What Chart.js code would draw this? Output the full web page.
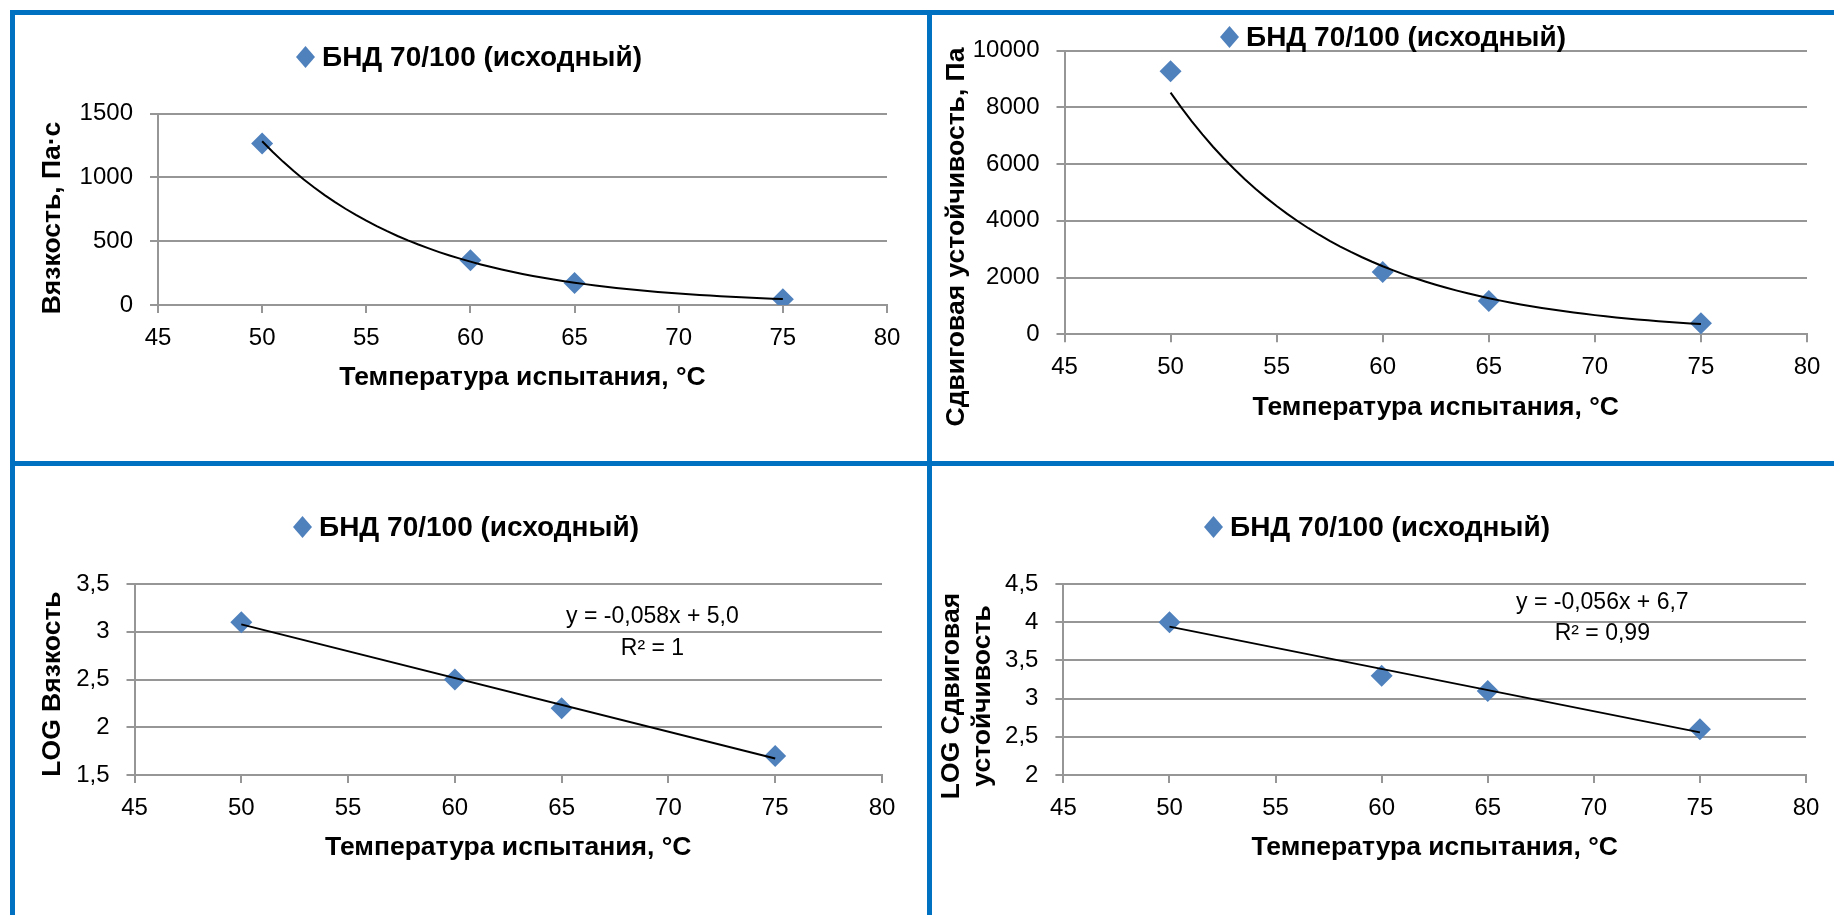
<!DOCTYPE html>
<html lang="ru">
<head>
<meta charset="utf-8">
<title>БНД 70/100 (исходный)</title>
<script src="https://cdn.jsdelivr.net/npm/chart.js@4.4.1/dist/chart.umd.min.js"></script>
<style>
  html, body { margin: 0; padding: 0; background: #fff; }
  body { position: relative; width: 1834px; height: 915px; overflow: hidden; font-family: "Liberation Sans", Arial, sans-serif; }
  .panel { position: absolute; }
  .panel canvas { position: absolute; left: 0; top: 0; }
  .frame { position: absolute; background: #0070c0; z-index: 5; }
  .legend { position: absolute; z-index: 2; }
  .legend-item { display: flex; align-items: center; height: 30px; line-height: 30px; font-weight: bold; font-size: 28px; white-space: nowrap; color: #000; }
  .legend-item .marker { width: 19px; height: 22px; margin-right: 7px; clip-path: polygon(50% 0, 100% 50%, 50% 100%, 0 50%); }
</style>
</head>
<body>

<div class="frame" style="left:10px; top:10px; width:1824px; height:5px;"></div>
<div class="frame" style="left:10px; top:10px; width:5px; height:905px;"></div>
<div class="frame" style="left:927px; top:10px; width:5px; height:905px;"></div>
<div class="frame" style="left:10px; top:461px; width:1824px; height:5px;"></div>

<div class="panel" style="left:15px; top:15px; width:912px; height:446px;">
  <canvas id="viscChart" width="912" height="446"></canvas>
  <div class="legend" id="viscLegend" style="left:281px; top:27px;"></div>
</div>
<div class="panel" style="left:932px; top:15px; width:902px; height:446px;">
  <canvas id="shearChart" width="902" height="446"></canvas>
  <div class="legend" id="shearLegend" style="left:288px; top:7px;"></div>
</div>
<div class="panel" style="left:15px; top:466px; width:912px; height:449px;">
  <canvas id="logViscChart" width="912" height="449"></canvas>
  <div class="legend" id="logViscLegend" style="left:278px; top:46px;"></div>
</div>
<div class="panel" style="left:932px; top:466px; width:902px; height:449px;">
  <canvas id="logShearChart" width="902" height="449"></canvas>
  <div class="legend" id="logShearLegend" style="left:272px; top:46px;"></div>
</div>

<script>
// Test temperatures, °C
const temps = [50, 60, 65, 75];

// Measured values for the base binder
const viscosity = [1265, 350, 173, 46];          // Па·с
const shearResistance = [9270, 2200, 1175, 390];  // Па
const logViscosity = [3.1, 2.5, 2.2, 1.7];
const logShear = [4.0, 3.3, 3.1, 2.6];

// Axis ticks
const tempTicks = [45, 50, 55, 60, 65, 70, 75, 80];
const viscTicks = [0, 500, 1000, 1500];
const shearTicks = [0, 2000, 4000, 6000, 8000, 10000];
const logViscTicks = [1.5, 2, 2.5, 3, 3.5];
const logShearTicks = [2, 2.5, 3, 3.5, 4, 4.5];

const seriesName = 'БНД 70/100 (исходный)';
const tempTitle = 'Температура испытания, °C';

const FONT = '"Liberation Sans", Arial, sans-serif';
const GRID = '#969696';
const MARKER = '#4f81bd';

Chart.defaults.font.family = FONT;
Chart.defaults.color = '#000';

// least squares line through (xs, ys)
function fitLine(xs, ys) {
  const n = xs.length;
  const mx = xs.reduce((a, b) => a + b, 0) / n;
  const my = ys.reduce((a, b) => a + b, 0) / n;
  let sxy = 0, sxx = 0;
  xs.forEach((x, i) => {
    sxy += (x - mx) * (ys[i] - my);
    sxx += (x - mx) * (x - mx);
  });
  const slope = sxy / sxx;
  return { slope, intercept: my - slope * mx };
}

// Trendline points: straight line or exponential (fit on ln y)
function trendPoints(xs, ys, kind) {
  const lo = Math.min(...xs), hi = Math.max(...xs);
  if (kind === 'linear') {
    const f = fitLine(xs, ys);
    return [lo, hi].map(x => ({ x, y: f.intercept + f.slope * x }));
  }
  const f = fitLine(xs, ys.map(Math.log));
  const pts = [];
  for (let x = lo; x <= hi + 1e-9; x += 0.5) {
    pts.push({ x, y: Math.exp(f.intercept + f.slope * x) });
  }
  return pts;
}

// HTML legend built from the chart's own legend items
const htmlLegend = {
  id: 'htmlLegend',
  afterUpdate(chart, args, opts) {
    const box = document.getElementById(opts.containerID);
    if (!box) return;
    box.innerHTML = '';
    chart.options.plugins.legend.labels.generateLabels(chart)
      .filter(item => item.text === seriesName)
      .forEach(item => {
        const row = document.createElement('div');
        row.className = 'legend-item';
        const mark = document.createElement('span');
        mark.className = 'marker';
        mark.style.background = item.fillStyle;
        const text = document.createElement('span');
        text.textContent = item.text;
        row.append(mark, text);
        box.appendChild(row);
      });
  }
};

// Rotated value-axis title (one or two lines)
const sideTitle = {
  id: 'sideTitle',
  afterDraw(chart, args, opts) {
    if (!opts.lines) return;
    const { ctx } = chart;
    ctx.save();
    ctx.font = 'bold 26.5px ' + FONT;
    ctx.fillStyle = '#000';
    ctx.textAlign = 'center';
    ctx.textBaseline = 'middle';
    ctx.translate(opts.x, opts.y);
    ctx.rotate(-Math.PI / 2);
    opts.lines.forEach((line, i) => ctx.fillText(line, 0, i * opts.gap));
    ctx.restore();
  }
};

// Trendline equation, anchored in data coordinates
const trendLabel = {
  id: 'trendLabel',
  afterDraw(chart, args, opts) {
    if (!opts.lines) return;
    const { ctx, scales } = chart;
    const px = scales.x.getPixelForValue(opts.x);
    const py = scales.y.getPixelForValue(opts.y);
    ctx.save();
    ctx.font = '23px ' + FONT;
    ctx.fillStyle = '#000';
    ctx.textAlign = 'center';
    ctx.textBaseline = 'middle';
    opts.lines.forEach((line, i) => ctx.fillText(line, px, py + i * opts.gap));
    ctx.restore();
  }
};

Chart.register(htmlLegend, sideTitle, trendLabel);

const decimalComma = v => String(v).replace('.', ',');

function buildChart(p) {
  const points = temps.map((t, i) => ({ x: t, y: p.values[i] }));
  return new Chart(document.getElementById(p.id), {
    type: 'scatter',
    data: {
      datasets: [
        {
          label: seriesName,
          data: points,
          order: 1,
          pointStyle: 'rectRot',
          pointRadius: 11,
          pointHoverRadius: 11,
          backgroundColor: MARKER,
          borderColor: MARKER,
          borderWidth: 0
        },
        {
          label: 'тренд',
          data: trendPoints(temps, p.values, p.fit),
          order: 0,
          showLine: true,
          borderColor: '#000',
          borderWidth: 2,
          pointRadius: 0,
          tension: 0
        }
      ]
    },
    options: {
      responsive: false,
      animation: false,
      events: [],
      layout: { padding: { left: 0, top: p.top, right: p.right, bottom: 0 } },
      plugins: {
        legend: { display: false },
        tooltip: { enabled: false },
        htmlLegend: { containerID: p.legend },
        sideTitle: p.yTitle,
        trendLabel: p.equation || {}
      },
      scales: {
        x: {
          type: 'linear',
          position: 'bottom',
          min: tempTicks[0],
          max: tempTicks[tempTicks.length - 1],
          afterBuildTicks: s => { s.ticks = tempTicks.map(v => ({ value: v })); },
          afterFit: s => { s.height = p.xHeight; },
          grid: { drawOnChartArea: false, drawTicks: true, tickLength: 8, color: GRID, lineWidth: 2 },
          border: { color: GRID, width: 2 },
          ticks: { padding: 11, font: { size: 24 }, color: '#000' },
          title: {
            display: true,
            text: tempTitle,
            color: '#000',
            font: { size: 26.5, weight: 'bold' },
            padding: { top: 0, bottom: p.xTitlePad }
          }
        },
        y: {
          type: 'linear',
          min: p.ticks[0],
          max: p.ticks[p.ticks.length - 1],
          afterBuildTicks: s => { s.ticks = p.ticks.map(v => ({ value: v })); },
          afterFit: s => { s.width = p.left; },
          grid: { color: GRID, lineWidth: 2, tickLength: 8 },
          border: { color: GRID, width: 2 },
          ticks: { padding: 17, font: { size: 24 }, color: '#000', callback: decimalComma }
        }
      }
    }
  });
}

const panels = [
  {
    id: 'viscChart', legend: 'viscLegend', values: viscosity, ticks: viscTicks, fit: 'exp',
    left: 143, top: 98.5, right: 40, xHeight: 156, xTitlePad: 67,
    yTitle: { lines: ['Вязкость, Па·с'], x: 38, y: 203, gap: 0 }
  },
  {
    id: 'shearChart', legend: 'shearLegend', values: shearResistance, ticks: shearTicks, fit: 'exp',
    left: 132.5, top: 35.6, right: 27, xHeight: 126.7, xTitlePad: 37,
    yTitle: { lines: ['Сдвиговая устойчивость, Па'], x: 25, y: 222, gap: 0 }
  },
  {
    id: 'logViscChart', legend: 'logViscLegend', values: logViscosity, ticks: logViscTicks, fit: 'linear',
    left: 119.5, top: 118, right: 45, xHeight: 140, xTitlePad: 51,
    yTitle: { lines: ['LOG Вязкость'], x: 38, y: 218, gap: 0 },
    equation: { lines: ['y = -0,058x + 5,0', 'R² = 1'], x: 69.25, y: 3.154, gap: 32 }
  },
  {
    id: 'logShearChart', legend: 'logShearLegend', values: logShear, ticks: logShearTicks, fit: 'linear',
    left: 131.4, top: 118, right: 28, xHeight: 140, xTitlePad: 51,
    yTitle: { lines: ['LOG Сдвиговая', 'устойчивость'], x: 19.5, y: 230, gap: 31.5 },
    equation: { lines: ['y = -0,056x + 6,7', 'R² = 0,99'], x: 70.4, y: 4.251, gap: 31 }
  }
];

panels.forEach(buildChart);
</script>
</body>
</html>
